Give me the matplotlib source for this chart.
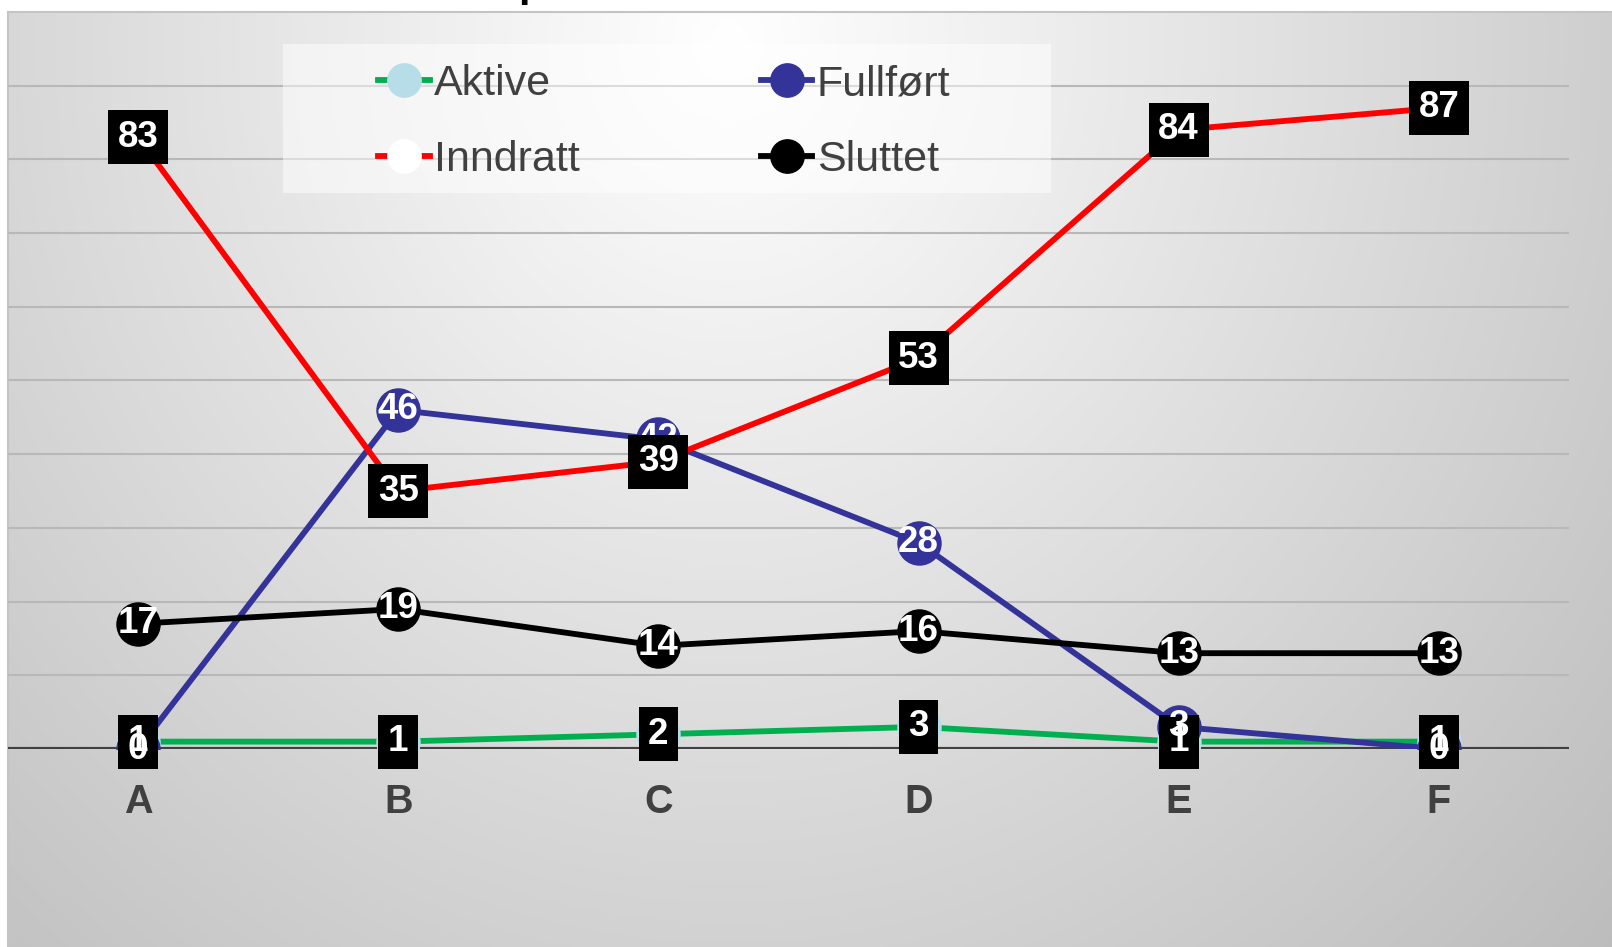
import numpy as np
import matplotlib
matplotlib.use('Agg')
import matplotlib.pyplot as plt
from matplotlib.lines import Line2D
from matplotlib.patches import Rectangle

plt.rcParams['font.family'] = ['Liberation Sans', 'DejaVu Sans']

# categories and series
categories = ['A', 'B', 'C', 'D', 'E', 'F']
aktive = [1, 1, 2, 3, 1, 1]
fullfort = [0, 46, 42, 28, 3, 0]
inndratt = [83, 35, 39, 53, 84, 87]
sluttet = [17, 19, 14, 16, 13, 13]

W, H = 1612, 947
fig = plt.figure(figsize=(W / 100, H / 100), dpi=100)
fig.patch.set_facecolor('white')

# gradient background of the plot area
bx0, by0 = 8, 12
bg = fig.add_axes([bx0 / W, 0, (W - bx0) / W, (H - by0) / H], zorder=0)
bw, bh = W - bx0, H - by0
xx, yy = np.meshgrid(np.arange(bw), np.arange(bh))
d = np.sqrt(((xx - 720) / 1000.0) ** 2 + ((yy - 30) / 1100.0) ** 2)
val = np.clip(255 - 55 * d, 0, 255) / 255.0
bg.imshow(np.dstack([val, val, val]), aspect='auto', extent=[0, bw, bh, 0])
bg.set_xticks([])
bg.set_yticks([])
for s in ['bottom', 'right']:
    bg.spines[s].set_visible(False)
for s in ['top', 'left']:
    bg.spines[s].set_color('#c4c4c4')
    bg.spines[s].set_linewidth(1.5)

# main axes
ax = fig.add_axes([bx0 / W, (H - 749) / H, (1569 - bx0) / W, (749 - 12) / H], zorder=1)
ax.set_facecolor('none')
x = np.arange(len(categories))
ax.set_xlim(-0.5, 5.5)
ax.set_ylim(0, 100)
for sp in ax.spines.values():
    sp.set_visible(False)
ax.set_yticks(np.arange(10, 100, 10))
ax.set_yticklabels([])
ax.tick_params(axis='y', length=0)
ax.grid(axis='y', color='#b8b8b8', linewidth=1.5, zorder=0)
ax.axhline(0, color='#404040', linewidth=3, zorder=1)
ax.set_xticks(x)
ax.set_xticklabels(categories, fontsize=28.5, fontweight='bold', color='#404040')
ax.tick_params(axis='x', length=0, pad=24.5)

lw = 4.2
ms = 31
ax.plot(x, aktive, color='#00B050', lw=lw, marker='o', ms=ms, mfc='#B7DEE8', mec='#B7DEE8', zorder=2)
ax.plot(x, fullfort, color='#333399', lw=lw, marker='o', ms=ms, mfc='#333399', mec='#333399', zorder=3)
ax.plot(x, inndratt, color='#FF0000', lw=lw, marker='o', ms=ms, mfc='white', mec='white', zorder=4)
ax.plot(x, sluttet, color='#000000', lw=lw, marker='o', ms=ms, mfc='black', mec='black', zorder=5)

# data labels, drawn in series order
box = dict(boxstyle='square,pad=0.26', fc='black', ec='none')
lab = dict(ha='center', va='center', fontsize=26.5, fontweight='bold', color='white')
for xi, v in zip(x, aktive):
    ax.text(xi, v, str(v), bbox=box, zorder=10, **lab)
for xi, v in zip(x, fullfort):
    ax.text(xi, v, str(v), zorder=11, **lab)
for xi, v in zip(x, inndratt):
    ax.text(xi, v, str(v), bbox=box, zorder=12, **lab)
for xi, v in zip(x, sluttet):
    ax.text(xi, v, str(v), zorder=13, **lab)

# legend background
fig.patches.append(Rectangle((283 / W, 1 - 193 / H), (1051 - 283) / W, (193 - 44) / H,
                             transform=fig.transFigure, fc='white', alpha=0.5,
                             ec='none', zorder=15))

# legend
handles = [
    Line2D([], [], color='#00B050', lw=lw, marker='o', ms=24, mfc='#B7DEE8', mec='#B7DEE8'),
    Line2D([], [], color='#FF0000', lw=lw, marker='o', ms=24, mfc='white', mec='white'),
    Line2D([], [], color='#333399', lw=lw, marker='o', ms=24, mfc='#333399', mec='#333399'),
    Line2D([], [], color='#000000', lw=lw, marker='o', ms=24, mfc='black', mec='black'),
]
labels = ['Aktive', 'Inndratt', 'Fullført', 'Sluttet']
leg = fig.legend(handles, labels, ncol=2, loc='upper left',
                 bbox_to_anchor=(363 / W, 1 - 49 / H), fontsize=31,
                 handlelength=1.2, handletextpad=0.1, columnspacing=4.2,
                 labelspacing=0.83, borderpad=0.35, borderaxespad=0,
                 frameon=False, labelcolor='#404040')
leg.set_zorder(20)

# cut-off title (only the descender shows)
fig.text(518 / W, 1 + 4 / H, 'p', fontsize=30, fontweight='bold', color='black',
         ha='left', va='baseline')

fig.savefig('out.png', dpi=100)
